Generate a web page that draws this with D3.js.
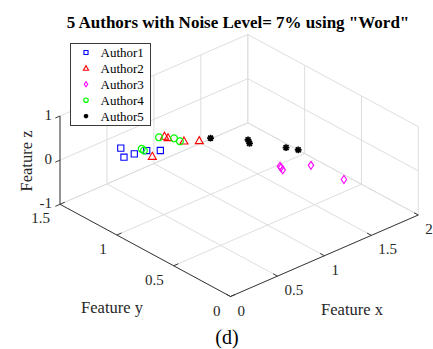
<!DOCTYPE html>
<html>
<head>
<meta charset="utf-8">
<script src="https://cdn.jsdelivr.net/npm/d3@7"></script>
<style>
  html, body { margin: 0; padding: 0; background: #fff; }
  svg { display: block; }
  text { font-family: "Liberation Serif", "Times New Roman", serif; fill: #262626; }
</style>
</head>
<body>
<svg id="chart" width="433" height="349"></svg>
<script>
// ---- data: [Feature x, Feature y, Feature z] per document ----
const authorNames = ["Author1", "Author2", "Author3", "Author4", "Author5"];
const author1 = [[0.49, 1.37, 0], [0.41, 1.276, 0], [0.508, 1.266, 0], [0.617, 1.247, 0], [0.698, 1.194, 0]];
const author2 = [[0.585, 1.171, 0], [0.877, 1.305, 0], [0.882, 1.278, 0], [0.94, 1.186, 0], [1.034, 1.129, 0]];
const author3 = [[1.234, 0.584, 0], [1.21, 0.54, 0], [1.426, 0.47, 0], [1.466, 0.213, 0], [1.224, 0.567, 0]];
const author4 = [[0.606, 1.282, 0], [0.601, 1.258, 0], [0.834, 1.318, 0], [0.912, 1.25, 0], [0.914, 1.2, 0]];
const author5 = [[1.13, 1.109, 0], [1.333, 0.947, 0], [1.303, 0.909, 0], [1.473, 0.728, 0], [1.52, 0.66, 0]];

const xTicks = [0, 0.5, 1, 1.5, 2];
const yTicks = [0, 0.5, 1, 1.5];
const zTicks = [-1, 0, 1];
const xTickLabels = ["0", "0.5", "1", "1.5", "2"];
const yTickLabels = ["0", "0.5", "1", "1.5"];
const zTickLabels = ["-1", "0", "1"];

const titleText = '5 Authors with Noise Level= 7% using "Word"';
const captionText = "(d)";

// ---- view: each data axis maps to [0,1], then onto a screen edge vector ----
const sx = d3.scaleLinear().domain([0, 2]).range([0, 1]);
const sy = d3.scaleLinear().domain([0, 1.5]).range([0, 1]);
const sz = d3.scaleLinear().domain([-1, 1]).range([0, 1]);

const origin = [230.5, 296.5];     // screen point of (x=0, y=0, z=-1)
const edgeX = [187.8, -81.5];      // full x range on screen
const edgeY = [-170.5, -92.2];     // full y range on screen
const edgeZ = [0, -88.3];          // full z range on screen

function project(x, y, z) {
  const a = sx(x), b = sy(y), c = sz(z);
  return [
    origin[0] + a * edgeX[0] + b * edgeY[0] + c * edgeZ[0],
    origin[1] + a * edgeX[1] + b * edgeY[1] + c * edgeZ[1]
  ];
}

const svg = d3.select("#chart");
const line = d3.line();

// ---- grid on the floor and the two back walls ----
const grid = svg.append("g")
  .attr("fill", "none").attr("stroke", "#dedede").attr("stroke-width", 1);
const [x0, x1] = sx.domain(), [y0, y1] = sy.domain(), [z0, z1] = sz.domain();

xTicks.forEach(v => {
  grid.append("path").attr("d", line([project(v, y0, z0), project(v, y1, z0)]));
  grid.append("path").attr("d", line([project(v, y1, z0), project(v, y1, z1)]));
});
yTicks.forEach(v => {
  grid.append("path").attr("d", line([project(x0, v, z0), project(x1, v, z0)]));
  grid.append("path").attr("d", line([project(x1, v, z0), project(x1, v, z1)]));
});
zTicks.forEach(v => {
  grid.append("path").attr("d", line([project(x0, y1, v), project(x1, y1, v)]));
  grid.append("path").attr("d", line([project(x1, y0, v), project(x1, y1, v)]));
});

// ---- axis lines, ticks and labels ----
const axes = svg.append("g").attr("stroke", "#3a3a3a").attr("stroke-width", 1).attr("fill", "none");
axes.append("path").attr("d", line([project(x0, y0, z0), project(x1, y0, z0)]));
axes.append("path").attr("d", line([project(x0, y0, z0), project(x0, y1, z0)]));
axes.append("path").attr("d", line([project(x0, y1, z0), project(x0, y1, z1)]));

const tickLen = 0.025;
xTicks.forEach(v => {
  const p = project(v, y0, z0);
  axes.append("path").attr("d", line([p, [p[0] + tickLen * edgeY[0], p[1] + tickLen * edgeY[1]]]));
});
yTicks.forEach(v => {
  const p = project(x0, v, z0);
  axes.append("path").attr("d", line([p, [p[0] + tickLen * edgeX[0], p[1] + tickLen * edgeX[1]]]));
});
zTicks.forEach(v => {
  const p = project(x0, y1, v);
  axes.append("path").attr("d", line([p, [p[0] - tickLen * edgeX[0], p[1] - tickLen * edgeX[1]]]));
});

const labels = svg.append("g").attr("font-size", 15);
xTicks.forEach((v, i) => {
  const p = project(v, y0, z0);
  labels.append("text").attr("x", p[0] + 7).attr("y", p[1] + 19)
    .attr("text-anchor", "start").text(xTickLabels[i]);
});
yTicks.forEach((v, i) => {
  const p = project(x0, v, z0);
  labels.append("text").attr("x", p[0] - 10).attr("y", p[1] + 19)
    .attr("text-anchor", "end").text(yTickLabels[i]);
});
zTicks.forEach((v, i) => {
  const p = project(x0, y1, v);
  labels.append("text").attr("x", p[0] - 8).attr("y", p[1] + 3.5)
    .attr("text-anchor", "end").text(zTickLabels[i]);
});

svg.append("text").attr("x", 352).attr("y", 315).attr("font-size", 16.5)
  .attr("text-anchor", "middle").text("Feature x");
svg.append("text").attr("x", 112).attr("y", 313).attr("font-size", 16.5)
  .attr("text-anchor", "middle").text("Feature y");
svg.append("text").attr("transform", "translate(32,161) rotate(-90)").attr("font-size", 16.5)
  .attr("text-anchor", "middle").text("Feature z");

svg.append("text").attr("x", 238).attr("y", 28).attr("font-size", 17)
  .attr("font-weight", "bold").attr("text-anchor", "middle").style("fill", "#000").text(titleText);
svg.append("text").attr("x", 227).attr("y", 344).attr("font-size", 20)
  .attr("text-anchor", "middle").style("fill", "#000").text(captionText);

// ---- markers ----
function markerPath(shape, r) {
  const p = d3.path();
  if (shape === "square") {
    p.rect(-r, -r, 2 * r, 2 * r);
  } else if (shape === "triangle") {
    p.moveTo(0, -r * 1.05); p.lineTo(r, r * 0.7); p.lineTo(-r, r * 0.7); p.closePath();
  } else if (shape === "diamond") {
    p.moveTo(0, -r * 1.1); p.lineTo(r * 0.75, 0); p.lineTo(0, r * 1.1); p.lineTo(-r * 0.75, 0); p.closePath();
  } else if (shape === "circle") {
    p.moveTo(r, 0); p.arc(0, 0, r, 0, 2 * Math.PI); p.closePath();
  } else if (shape === "asterisk") {
    const d = r * 0.72;
    p.moveTo(-r, 0); p.lineTo(r, 0);
    p.moveTo(0, -r); p.lineTo(0, r);
    p.moveTo(-d, -d); p.lineTo(d, d);
    p.moveTo(-d, d); p.lineTo(d, -d);
  }
  return p.toString();
}

const series = [
  { name: authorNames[0], pts: author1, color: "#0000ff", shape: "square", r: 3.1, w: 1.1 },
  { name: authorNames[1], pts: author2, color: "#ff0000", shape: "triangle", r: 4.0, w: 1.1 },
  { name: authorNames[2], pts: author3, color: "#ff00ff", shape: "diamond", r: 3.6, w: 1.1 },
  { name: authorNames[3], pts: author4, color: "#00ff00", shape: "circle", r: 3.4, w: 1.2 },
  { name: authorNames[4], pts: author5, color: "#000000", shape: "asterisk", r: 3.4, w: 1.7 }
];

const marks = svg.append("g");
series.forEach(s => {
  marks.append("g").selectAll("path").data(s.pts).join("path")
    .attr("transform", d => { const p = project(d[0], d[1], d[2]); return `translate(${p[0]},${p[1]})`; })
    .attr("d", markerPath(s.shape, s.r))
    .attr("fill", "none").attr("stroke", s.color).attr("stroke-width", s.w);
});

// ---- legend ----
const legend = svg.append("g").attr("transform", "translate(70.5,43.5)");
legend.append("rect").attr("width", 80).attr("height", 82)
  .attr("fill", "#fff").attr("stroke", "#3a3a3a").attr("stroke-width", 1);
series.forEach((s, i) => {
  const yy = 9 + i * 15.9;
  legend.append("path").attr("transform", `translate(15.5,${yy})`)
    .attr("d", markerPath(s.shape, s.r * 0.65))
    .attr("fill", "none").attr("stroke", s.color).attr("stroke-width", s.w);
  legend.append("text").attr("x", 30).attr("y", yy + 4.5).attr("font-size", 13)
    .style("fill", "#000").text(s.name);
});
</script>
</body>
</html>
